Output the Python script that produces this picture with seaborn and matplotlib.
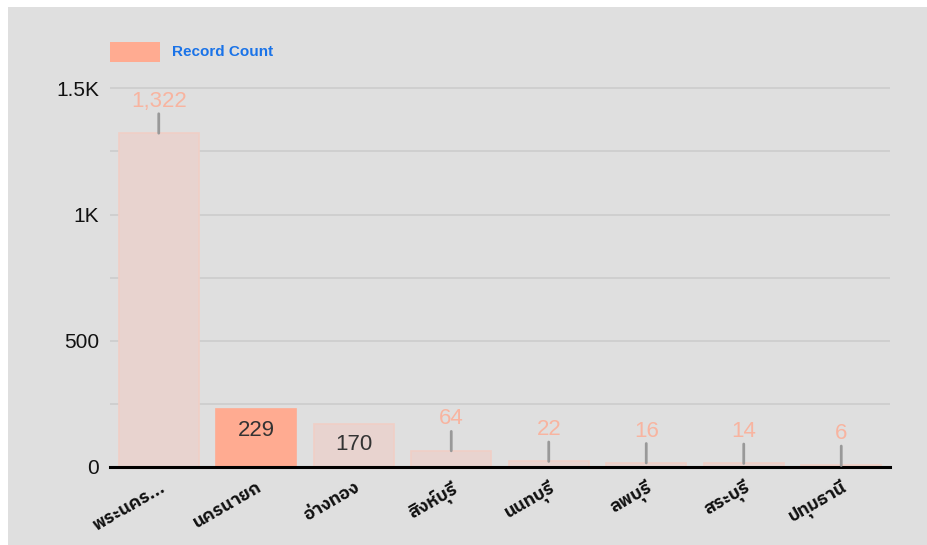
import matplotlib
matplotlib.use("Agg")
import matplotlib.pyplot as plt
import seaborn as sns
import pandas as pd
from matplotlib.patches import Rectangle
from matplotlib import font_manager

# data
provinces = ["พระนคร...", "นครนายก", "อ่างทอง", "สิงห์บุรี", "นนทบุรี", "ลพบุรี", "สระบุรี", "ปทุมธานี"]
record_count = [1322, 229, 170, 64, 22, 16, 14, 6]
highlight = "นครนายก"

# fonts that cover Thai
thai_fonts = sorted({f.name for f in font_manager.fontManager.ttflist if "Thai" in f.name})

sns.set_style("white")
plt.rcParams["font.family"] = ["Liberation Sans"] + thai_fonts + ["DejaVu Sans"]

df = pd.DataFrame({"province": provinces, "count": record_count})
palette = {p: ("#ffab91" if p == highlight else "#e8d3cf") for p in provinces}

fig = plt.figure(figsize=(9.27, 5.45), dpi=100)
fig.patch.set_facecolor("white")
fig.patches.append(Rectangle((8 / 927, 0), 1, 1 - 7 / 545, transform=fig.transFigure,
                             facecolor="#dfdfdf", edgecolor="none", zorder=-10))
ax = fig.add_axes([110 / 927, 78 / 545, 780 / 927, 404 / 545])
ax.set_facecolor("none")

sns.barplot(data=df, x="province", y="count", hue="province", palette=palette,
            width=0.82, saturation=1, legend=False, ax=ax, zorder=2)
for p, bar in zip(provinces, ax.patches):
    bar.set_edgecolor("#ffab91" if p == highlight else "#f0cfc6")
    bar.set_linewidth(1.2)

ax.set_ylim(0, 1600)
ax.set_xlim(-0.5, len(provinces) - 0.5)
ax.set_yticks([0, 250, 500, 750, 1000, 1250, 1500])
ax.set_yticklabels(["0", "", "500", "", "1K", "", "1.5K"], fontsize=15, color="#111111")
ax.yaxis.grid(True, color="#cccccc", linewidth=1.2)
ax.set_axisbelow(True)
for s in ["top", "right", "left"]:
    ax.spines[s].set_visible(False)
ax.spines["bottom"].set_color("black")
ax.spines["bottom"].set_linewidth(2.2)
ax.spines["bottom"].set_zorder(5)
ax.tick_params(axis="both", length=0, pad=8)
ax.set_xticks(range(len(provinces)))
ax.set_xticklabels(provinces, rotation=30, ha="right", rotation_mode="anchor",
                   fontsize=13, fontweight="bold", color="#111111",
                   family=thai_fonts + ["DejaVu Sans"])
ax.set_xlabel("")
ax.set_ylabel("")

# value labels: inside the bar for mid-size bars, above with a leader otherwise
for i, (p, v) in enumerate(zip(provinces, record_count)):
    if 100 < v < 500:
        ax.annotate(f"{v:,}", (i, v), xytext=(0, -15), textcoords="offset points",
                    ha="center", va="center", fontsize=16, color="#333333", zorder=6)
    else:
        ax.annotate("", (i, v), xytext=(0, 14), textcoords="offset points",
                    arrowprops=dict(arrowstyle="-", color="#999999", lw=2,
                                    shrinkA=0, shrinkB=0), zorder=6)
        ax.annotate(f"{v:,}", (i, v), xytext=(0, 23), textcoords="offset points",
                    ha="center", va="center", fontsize=16, color="#f8b4a0", zorder=6)

# legend
fig.patches.append(Rectangle((110 / 927, 1 - 62 / 545), 50 / 927, 20 / 545,
                             transform=fig.transFigure, facecolor="#ffab91",
                             edgecolor="none"))
fig.text(172 / 927, 1 - 52 / 545, "Record Count", fontsize=11, color="#1a73e8",
         fontweight="bold", va="center", ha="left")

fig.savefig("out.png", dpi=100)
